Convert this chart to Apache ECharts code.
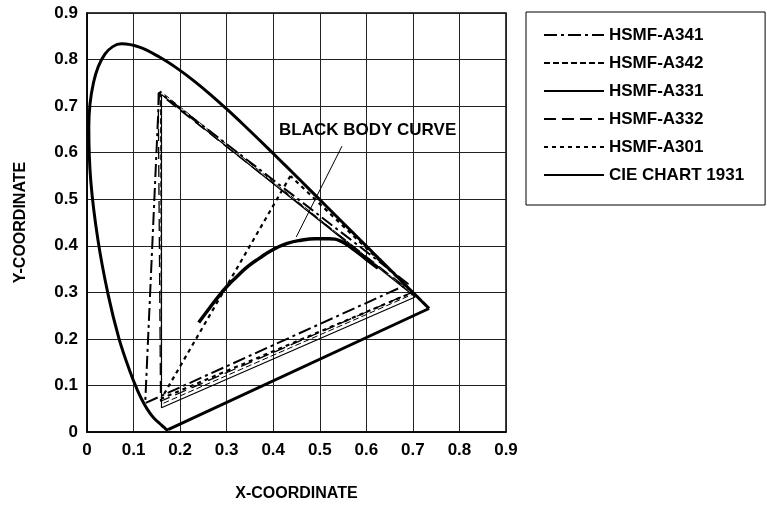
<!DOCTYPE html>
<html>
<head>
<meta charset="utf-8">
<script src="https://cdn.jsdelivr.net/npm/echarts@6/dist/echarts.min.js"></script>
<style>
html,body{margin:0;padding:0;background:#fff;}
#c{width:767px;height:506px;}
</style>
</head>
<body>
<div id="c"></div>
<script>
// ---- data ----
var seriesNames = ['HSMF-A341', 'HSMF-A342', 'HSMF-A331', 'HSMF-A332', 'HSMF-A301', 'CIE CHART 1931'];
var axisTicks = ['0', '0.1', '0.2', '0.3', '0.4', '0.5', '0.6', '0.7', '0.8', '0.9'];

var hsmfA341 = [[0.155, 0.730], [0.125, 0.062], [0.690, 0.318], [0.155, 0.730]];
var hsmfA342 = [[0.158, 0.732], [0.160, 0.060], [0.700, 0.296], [0.158, 0.732]];
var hsmfA331 = [[0.160, 0.725], [0.160, 0.052], [0.705, 0.290], [0.160, 0.725]];
var hsmfA332 = [[0.153, 0.728], [0.158, 0.066], [0.698, 0.300], [0.153, 0.728]];
var hsmfA301 = [[0.437, 0.550], [0.160, 0.072], [0.700, 0.300], [0.437, 0.550]];

var cieLocus = [
  [0.1741, 0.0050], [0.1733, 0.0048], [0.1714, 0.0051], [0.1689, 0.0069], [0.1644, 0.0109],
  [0.1566, 0.0177], [0.1440, 0.0297], [0.1355, 0.0399], [0.1241, 0.0578], [0.1096, 0.0868],
  [0.0913, 0.1327], [0.0687, 0.2007], [0.0454, 0.2950], [0.0235, 0.4127], [0.0082, 0.5384],
  [0.0039, 0.6548], [0.0139, 0.7502], [0.0389, 0.8120], [0.0743, 0.8338], [0.1142, 0.8262],
  [0.1547, 0.8059], [0.1929, 0.7816], [0.2296, 0.7543], [0.2658, 0.7243], [0.3016, 0.6923],
  [0.3373, 0.6589], [0.3731, 0.6245], [0.4087, 0.5896], [0.4441, 0.5547], [0.4788, 0.5202],
  [0.5125, 0.4866], [0.5448, 0.4544], [0.5752, 0.4242], [0.6029, 0.3965], [0.6270, 0.3725],
  [0.6658, 0.3340], [0.6915, 0.3083], [0.7079, 0.2920], [0.7190, 0.2809], [0.7260, 0.2740],
  [0.7300, 0.2700], [0.7334, 0.2666], [0.7347, 0.2653]
];
var purpleLine = [[0.7347, 0.2653], [0.1741, 0.0050]];

var blackBody = [
  [0.240, 0.235], [0.260, 0.262], [0.280, 0.288], [0.300, 0.312], [0.320, 0.332],
  [0.345, 0.355], [0.370, 0.373], [0.400, 0.392], [0.430, 0.405], [0.460, 0.412],
  [0.490, 0.415], [0.520, 0.415], [0.545, 0.410], [0.570, 0.394], [0.600, 0.371],
  [0.625, 0.352]
];
var blackBodyLeader = [[0.4495, 0.419], [0.5477, 0.614]];
var blackBodyLabel = 'BLACK BODY CURVE';

// ---- chart ----
var FONT = '"Liberation Sans", Arial, Helvetica, sans-serif';
var chart = echarts.init(document.getElementById('c'), null, {renderer: 'canvas'});

function polySeries(name, data, lineStyle, extra) {
  return Object.assign({
    name: name, type: 'line', data: data, symbol: 'none', showSymbol: false,
    lineStyle: Object.assign({color: '#000'}, lineStyle),
    itemStyle: {color: '#000'}, animation: false, z: 3, silent: true
  }, extra || {});
}

var axisCommon = {
  type: 'value', min: 0, max: 0.9, interval: 0.1,
  axisLine: {show: true, onZero: false, lineStyle: {color: '#000', width: 1.5}},
  axisTick: {show: false},
  splitLine: {show: true, lineStyle: {color: '#222', width: 1}},
  axisLabel: {
    color: '#000', fontFamily: FONT, fontWeight: 'bold', fontSize: 17,
    formatter: function (v) { return axisTicks[Math.round(v * 10)]; }
  },
  nameLocation: 'middle',
  nameTextStyle: {color: '#000', fontFamily: FONT, fontWeight: 'bold', fontSize: 16}
};

var option = {
  backgroundColor: '#fff',
  animation: false,
  grid: {left: 87, right: 261, top: 13, bottom: 74, show: true, borderColor: '#000', borderWidth: 1.5,
         containLabel: false, outerBoundsMode: 'none'},
  xAxis: Object.assign({}, axisCommon, {
    name: 'X-COORDINATE', nameGap: 54,
    axisLabel: Object.assign({}, axisCommon.axisLabel, {margin: 10})
  }),
  yAxis: Object.assign({}, axisCommon, {
    name: 'Y-COORDINATE', nameGap: 58,
    axisLabel: Object.assign({}, axisCommon.axisLabel, {margin: 9})
  }),
  legend: {
    orient: 'vertical', left: 526, top: 12,
    data: seriesNames,
    itemWidth: 60, itemHeight: 14, itemGap: 8,
    padding: [13, 21, 20, 17],
    borderColor: '#000', borderWidth: 1,
    backgroundColor: '#fff',
    selectedMode: false,
    itemStyle: {opacity: 0, borderWidth: 0},
    textStyle: {color: '#000', fontFamily: FONT, fontWeight: 'bold', fontSize: 17, lineHeight: 20}
  },
  graphic: [{
    type: 'text', left: 279, top: 122, z: 10,
    style: {text: blackBodyLabel, fill: '#000', font: 'bold 17px ' + FONT}
  }],
  series: [
    polySeries(seriesNames[0], hsmfA341, {width: 2, type: [13, 4, 3, 4]}),
    polySeries(seriesNames[1], hsmfA342, {width: 1, type: [6, 3]}),
    polySeries(seriesNames[2], hsmfA331, {width: 1.2, type: 'solid'}),
    polySeries(seriesNames[3], hsmfA332, {width: 1.3, type: [12, 6]}),
    polySeries(seriesNames[4], hsmfA301, {width: 2.2, type: [4, 4]}),
    polySeries(seriesNames[5], cieLocus, {width: 3}, {smooth: 0.35}),
    polySeries(seriesNames[5], purpleLine, {width: 3}),
    {
      name: 'bb', type: 'line', data: blackBody, symbol: 'none', smooth: true,
      lineStyle: {color: '#000', width: 3.5}, animation: false, silent: true, z: 4
    },
    {
      name: 'leader', type: 'line', data: blackBodyLeader, symbol: 'none',
      lineStyle: {color: '#000', width: 1}, animation: false, silent: true, z: 4
    }
  ]
};
chart.setOption(option);
</script>
</body>
</html>
